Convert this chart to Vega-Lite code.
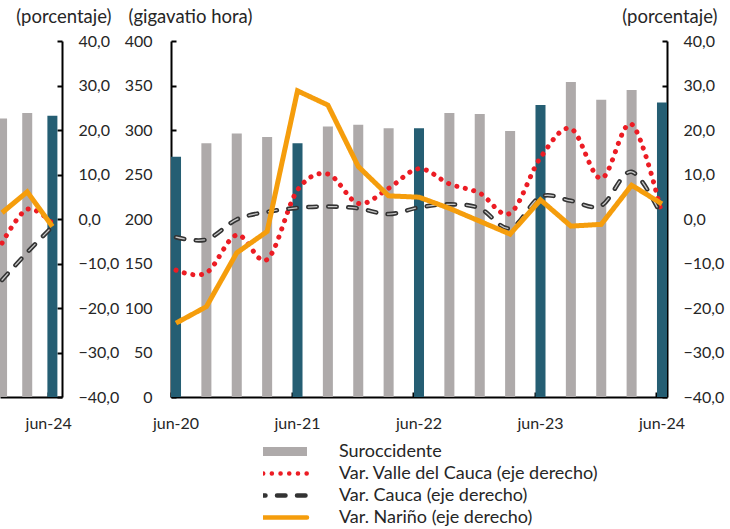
{
  "$schema": "https://vega.github.io/schema/vega-lite/v6.json",
  "padding": {"left": 0, "top": 7, "right": 5, "bottom": 5},
  "bounds": "flush",
  "spacing": 109,
  "config": {
    "view": {"stroke": null},
    "font": "Lato",
    "axis": {
      "domainColor": "#000000", "domainWidth": 2,
      "tickColor": "#000000", "tickWidth": 2, "tickSize": -5,
      "labelFont": "Lato", "labelFontSize": 16, "labelColor": "#262626",
      "titleFont": "Lato", "titleFontSize": 18.5, "titleFontWeight": "normal", "titleColor": "#262626",
      "grid": false
    },
    "legend": {"labelFont": "Lato", "labelFontSize": 18, "labelColor": "#262626", "labelLimit": 500}
  },
  "datasets": {
    "bars": [
      {"q": "jun-20", "gwh": 270, "jun": true},
      {"q": "sep-20", "gwh": 285, "jun": false},
      {"q": "dic-20", "gwh": 296, "jun": false},
      {"q": "mar-21", "gwh": 292, "jun": false},
      {"q": "jun-21", "gwh": 285, "jun": true},
      {"q": "sep-21", "gwh": 304, "jun": false},
      {"q": "dic-21", "gwh": 306, "jun": false},
      {"q": "mar-22", "gwh": 302, "jun": false},
      {"q": "jun-22", "gwh": 302, "jun": true},
      {"q": "sep-22", "gwh": 319, "jun": false},
      {"q": "dic-22", "gwh": 318, "jun": false},
      {"q": "mar-23", "gwh": 299, "jun": false},
      {"q": "jun-23", "gwh": 328, "jun": true},
      {"q": "sep-23", "gwh": 354, "jun": false},
      {"q": "dic-23", "gwh": 334, "jun": false},
      {"q": "mar-24", "gwh": 345, "jun": false},
      {"q": "jun-24", "gwh": 331, "jun": true}
    ],
    "lines": [
      {"q": "jun-20", "serie": "Var. Valle del Cauca (eje derecho)", "pct": -11.5},
      {"q": "sep-20", "serie": "Var. Valle del Cauca (eje derecho)", "pct": -12.1},
      {"q": "dic-20", "serie": "Var. Valle del Cauca (eje derecho)", "pct": -3.6},
      {"q": "mar-21", "serie": "Var. Valle del Cauca (eje derecho)", "pct": -9.1},
      {"q": "jun-21", "serie": "Var. Valle del Cauca (eje derecho)", "pct": 6.5},
      {"q": "sep-21", "serie": "Var. Valle del Cauca (eje derecho)", "pct": 10.1},
      {"q": "dic-21", "serie": "Var. Valle del Cauca (eje derecho)", "pct": 3.5},
      {"q": "mar-22", "serie": "Var. Valle del Cauca (eje derecho)", "pct": 6.9},
      {"q": "jun-22", "serie": "Var. Valle del Cauca (eje derecho)", "pct": 11.3},
      {"q": "sep-22", "serie": "Var. Valle del Cauca (eje derecho)", "pct": 7.9},
      {"q": "dic-22", "serie": "Var. Valle del Cauca (eje derecho)", "pct": 5.8},
      {"q": "mar-23", "serie": "Var. Valle del Cauca (eje derecho)", "pct": 1.3},
      {"q": "jun-23", "serie": "Var. Valle del Cauca (eje derecho)", "pct": 13.8},
      {"q": "sep-23", "serie": "Var. Valle del Cauca (eje derecho)", "pct": 20.3},
      {"q": "dic-23", "serie": "Var. Valle del Cauca (eje derecho)", "pct": 9.1},
      {"q": "mar-24", "serie": "Var. Valle del Cauca (eje derecho)", "pct": 21.3},
      {"q": "jun-24", "serie": "Var. Valle del Cauca (eje derecho)", "pct": 1.0},
      {"q": "jun-20", "serie": "Var. Cauca (eje derecho)", "pct": -4.1},
      {"q": "sep-20", "serie": "Var. Cauca (eje derecho)", "pct": -4.6},
      {"q": "dic-20", "serie": "Var. Cauca (eje derecho)", "pct": -0.1},
      {"q": "mar-21", "serie": "Var. Cauca (eje derecho)", "pct": 1.6},
      {"q": "jun-21", "serie": "Var. Cauca (eje derecho)", "pct": 2.5},
      {"q": "sep-21", "serie": "Var. Cauca (eje derecho)", "pct": 2.8},
      {"q": "dic-21", "serie": "Var. Cauca (eje derecho)", "pct": 2.4},
      {"q": "mar-22", "serie": "Var. Cauca (eje derecho)", "pct": 1.1},
      {"q": "jun-22", "serie": "Var. Cauca (eje derecho)", "pct": 2.6},
      {"q": "sep-22", "serie": "Var. Cauca (eje derecho)", "pct": 3.3},
      {"q": "dic-22", "serie": "Var. Cauca (eje derecho)", "pct": 2.4},
      {"q": "mar-23", "serie": "Var. Cauca (eje derecho)", "pct": -2.1},
      {"q": "jun-23", "serie": "Var. Cauca (eje derecho)", "pct": 5.0},
      {"q": "sep-23", "serie": "Var. Cauca (eje derecho)", "pct": 4.1},
      {"q": "dic-23", "serie": "Var. Cauca (eje derecho)", "pct": 3.0},
      {"q": "mar-24", "serie": "Var. Cauca (eje derecho)", "pct": 10.6},
      {"q": "jun-24", "serie": "Var. Cauca (eje derecho)", "pct": 0.5},
      {"q": "jun-20", "serie": "Var. Nariño (eje derecho)", "pct": -23.4},
      {"q": "sep-20", "serie": "Var. Nariño (eje derecho)", "pct": -19.7},
      {"q": "dic-20", "serie": "Var. Nariño (eje derecho)", "pct": -7.6},
      {"q": "mar-21", "serie": "Var. Nariño (eje derecho)", "pct": -2.8},
      {"q": "jun-21", "serie": "Var. Nariño (eje derecho)", "pct": 28.8},
      {"q": "sep-21", "serie": "Var. Nariño (eje derecho)", "pct": 25.6},
      {"q": "dic-21", "serie": "Var. Nariño (eje derecho)", "pct": 11.8},
      {"q": "mar-22", "serie": "Var. Nariño (eje derecho)", "pct": 5.2},
      {"q": "jun-22", "serie": "Var. Nariño (eje derecho)", "pct": 4.9},
      {"q": "sep-22", "serie": "Var. Nariño (eje derecho)", "pct": 2.4},
      {"q": "dic-22", "serie": "Var. Nariño (eje derecho)", "pct": -0.5},
      {"q": "mar-23", "serie": "Var. Nariño (eje derecho)", "pct": -3.4},
      {"q": "jun-23", "serie": "Var. Nariño (eje derecho)", "pct": 4.3},
      {"q": "sep-23", "serie": "Var. Nariño (eje derecho)", "pct": -1.6},
      {"q": "dic-23", "serie": "Var. Nariño (eje derecho)", "pct": -1.2},
      {"q": "mar-24", "serie": "Var. Nariño (eje derecho)", "pct": 7.6},
      {"q": "jun-24", "serie": "Var. Nariño (eje derecho)", "pct": 3.4}
    ],
    "leftbars": [
      {"i": 15, "gwh": 313, "jun": false},
      {"i": 16, "gwh": 319, "jun": false},
      {"i": 17, "gwh": 316, "jun": true}
    ],
    "leftlines": [
      {"i": 15, "serie": "valle", "pct": -5.4},
      {"i": 16, "serie": "valle", "pct": 2.2},
      {"i": 17, "serie": "valle", "pct": -1.0},
      {"i": 15, "serie": "cauca", "pct": -13.7},
      {"i": 16, "serie": "cauca", "pct": -7.5},
      {"i": 17, "serie": "cauca", "pct": -1.7},
      {"i": 15, "serie": "narino", "pct": 1.4},
      {"i": 16, "serie": "narino", "pct": 6.1},
      {"i": 17, "serie": "narino", "pct": -1.7}
    ]
  },
  "hconcat": [
    {
      "width": 62,
      "height": 356,
      "layer": [
        {
          "data": {"name": "leftbars"},
          "mark": {"type": "bar", "size": 10, "clip": true},
          "encoding": {
            "x": {"field": "i", "type": "quantitative",
              "scale": {"domain": [15.117, 17.183], "nice": false, "zero": false},
              "axis": {"values": [16.833], "labelExpr": "'jun-24'", "labelDx": 5, "labelPadding": 23, "title": null}},
            "y": {"field": "gwh", "type": "quantitative", "scale": {"domain": [0, 400], "nice": false}, "axis": null},
            "color": {"condition": {"test": "datum.jun", "value": "#255e73"}, "value": "#aeaaaa"}
          }
        },
        {
          "layer": [
            {
              "data": {"name": "leftlines"},
              "transform": [{"filter": "datum.serie === 'valle'"}],
              "mark": {"type": "line", "clip": true, "interpolate": "cardinal", "color": "#ec1c24", "strokeWidth": 5, "strokeCap": "round", "strokeDash": [0.1, 8.6]},
              "encoding": {
                "x": {"field": "i", "type": "quantitative"},
                "y": {"field": "pct", "type": "quantitative", "scale": {"domain": [-40, 40], "nice": false},
                  "axis": {"orient": "right", "values": [-40, -30, -20, -10, 0, 10, 20, 30, 40],
                    "labelExpr": "replace(format(datum.value, '.1f'), '.', ',')", "labelPadding": 21,
                    "title": "(porcentaje)", "titleAngle": 0, "titleX": 49, "titleY": -19, "titleAlign": "right", "titleBaseline": "alphabetic"}}
              }
            },
            {
              "data": {"name": "leftlines"},
              "transform": [{"filter": "datum.serie === 'cauca'"}],
              "mark": {"type": "line", "clip": true, "interpolate": "cardinal", "color": "#333333", "strokeWidth": 4.5, "strokeCap": "round", "strokeDash": [8.5, 11.5]},
              "encoding": {"x": {"field": "i", "type": "quantitative"}, "y": {"field": "pct", "type": "quantitative"}}
            },
            {
              "data": {"name": "leftlines"},
              "transform": [{"filter": "datum.serie === 'cauca'"}],
              "mark": {"type": "line", "clip": true, "interpolate": "cardinal", "color": "#c8c8c8", "strokeWidth": 1.3, "strokeCap": "round", "strokeDash": [8.5, 11.5]},
              "encoding": {"x": {"field": "i", "type": "quantitative"}, "y": {"field": "pct", "type": "quantitative"}}
            },
            {
              "data": {"name": "leftlines"},
              "transform": [{"filter": "datum.serie === 'narino'"}],
              "mark": {"type": "line", "clip": true, "color": "#f59d0c", "strokeWidth": 5, "strokeJoin": "miter"},
              "encoding": {"x": {"field": "i", "type": "quantitative"}, "y": {"field": "pct", "type": "quantitative"}}
            }
          ]
        }
      ],
      "resolve": {"scale": {"y": "independent"}}
    },
    {
      "width": 496,
      "height": 356,
      "layer": [
        {
          "data": {"name": "bars"},
          "mark": {"type": "bar"},
          "encoding": {
            "x": {"field": "q", "type": "ordinal",
              "scale": {"domain": ["jun-20","sep-20","dic-20","mar-21","jun-21","sep-21","dic-21","mar-22","jun-22","sep-22","dic-22","mar-23","jun-23","sep-23","dic-23","mar-24","jun-24"], "paddingInner": 0.67, "paddingOuter": 0},
              "axis": {"values": ["jun-20","jun-21","jun-22","jun-23","jun-24"], "bandPosition": 0, "labelDx": 5, "labelAngle": 0, "labelPadding": 23, "title": null}},
            "y": {"field": "gwh", "type": "quantitative", "scale": {"domain": [0, 400], "nice": false},
              "axis": {"orient": "left", "values": [0, 50, 100, 150, 200, 250, 300, 350, 400], "labelPadding": 24,
                "title": "(gigavatio hora)", "titleAngle": 0, "titleX": -43, "titleY": -19, "titleAlign": "left", "titleBaseline": "alphabetic"}},
            "color": {"condition": {"test": "datum.jun", "value": "#255e73"}, "value": "#aeaaaa"}
          }
        },
        {
          "layer": [
            {
              "data": {"name": "lines"},
              "transform": [{"filter": "datum.serie === 'Var. Valle del Cauca (eje derecho)'"}],
              "mark": {"type": "line", "interpolate": "cardinal", "strokeWidth": 5, "strokeCap": "round"},
              "encoding": {
                "x": {"field": "q", "type": "ordinal"},
                "y": {"field": "pct", "type": "quantitative", "scale": {"domain": [-40, 40], "nice": false},
                  "axis": {"orient": "right", "values": [-40, -30, -20, -10, 0, 10, 20, 30, 40],
                    "labelExpr": "replace(format(datum.value, '.1f'), '.', ',')", "labelPadding": 21,
                    "title": "(porcentaje)", "titleAngle": 0, "titleX": 50, "titleY": -19, "titleAlign": "right", "titleBaseline": "alphabetic"}},
                "color": {"field": "serie", "type": "nominal",
                  "scale": {"domain": ["Suroccidente", "Var. Valle del Cauca (eje derecho)", "Var. Cauca (eje derecho)", "Var. Nariño (eje derecho)"], "range": ["#aeaaaa", "#ec1c24", "#333333", "#f59d0c"]},
                  "legend": {"orient": "none", "legendX": 263, "legendY": 400, "title": null, "direction": "vertical",
                    "symbolType": "stroke", "symbolSize": 4900, "symbolStrokeWidth": 4.5, "clipHeight": 21, "rowPadding": 1,
                    "labelOffset": 58, "symbolOffset": 0, "padding": 0, "labelFontSize": 18, "labelLimit": 500,
                    "encode": {"symbols": {"update": {
                      "strokeWidth": {"signal": "datum.value === 'Suroccidente' ? 9 : 4.5"},
                      "strokeCap": {"signal": "datum.value === 'Suroccidente' ? 'butt' : 'round'"}}}}}},
                "strokeDash": {"field": "serie", "type": "nominal",
                  "scale": {"domain": ["Suroccidente", "Var. Valle del Cauca (eje derecho)", "Var. Cauca (eje derecho)", "Var. Nariño (eje derecho)"], "range": [[1, 0], [0.1, 8.6], [8.5, 11.5], [1, 0]]}}
              }
            },
            {
              "data": {"name": "lines"},
              "transform": [{"filter": "datum.serie === 'Var. Cauca (eje derecho)'"}],
              "mark": {"type": "line", "interpolate": "cardinal", "strokeWidth": 4.5, "strokeCap": "round"},
              "encoding": {
                "x": {"field": "q", "type": "ordinal"},
                "y": {"field": "pct", "type": "quantitative"},
                "color": {"field": "serie", "type": "nominal"},
                "strokeDash": {"field": "serie", "type": "nominal"}
              }
            },
            {
              "data": {"name": "lines"},
              "transform": [{"filter": "datum.serie === 'Var. Cauca (eje derecho)'"}],
              "mark": {"type": "line", "interpolate": "cardinal", "strokeWidth": 1.3, "strokeCap": "round", "color": "#c8c8c8", "strokeDash": [8.5, 11.5]},
              "encoding": {
                "x": {"field": "q", "type": "ordinal"},
                "y": {"field": "pct", "type": "quantitative"}
              }
            },
            {
              "data": {"name": "lines"},
              "transform": [{"filter": "datum.serie === 'Var. Nariño (eje derecho)'"}],
              "mark": {"type": "line", "strokeWidth": 5, "strokeCap": "butt"},
              "encoding": {
                "x": {"field": "q", "type": "ordinal"},
                "y": {"field": "pct", "type": "quantitative"},
                "color": {"field": "serie", "type": "nominal"},
                "strokeDash": {"field": "serie", "type": "nominal"}
              }
            }
          ]
        }
      ],
      "resolve": {"scale": {"y": "independent"}}
    }
  ]
}
